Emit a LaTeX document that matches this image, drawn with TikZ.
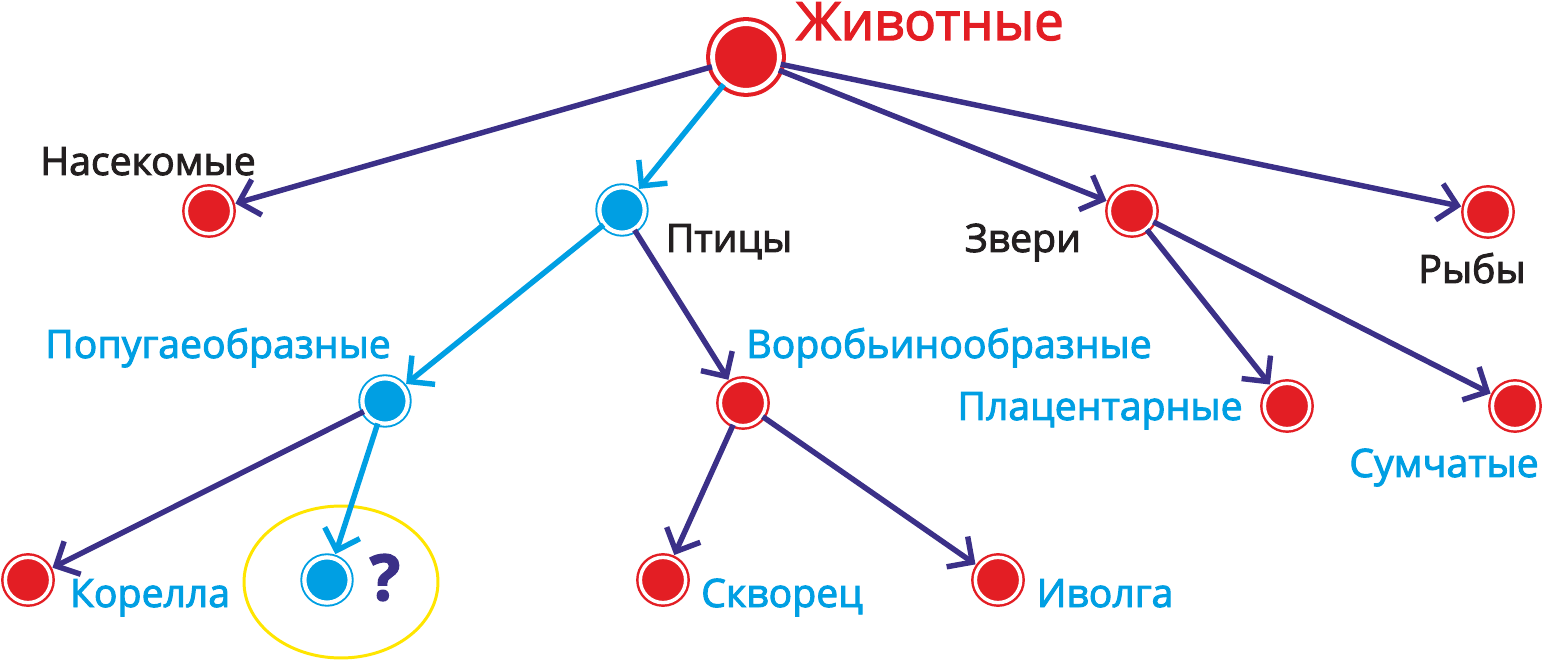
\documentclass[tikz,border=0pt]{standalone}
\usepackage{fontspec}
\setmainfont{Open Sans}[FakeBold=2.5]
\usetikzlibrary{arrows.meta}
\definecolor{animred}{HTML}{E31E24}
\definecolor{birdblue}{HTML}{009FE3}
\definecolor{linknavy}{HTML}{3B3088}
\definecolor{textgray}{HTML}{231F20}
\definecolor{markyellow}{HTML}{FFE500}

\begin{document}
\begin{tikzpicture}[x=0.02cm, y=-0.02cm,
    reddot/.style={circle, fill=animred, draw=animred, double=white, double distance=2pt, line width=1.4pt, minimum size=25.8pt, inner sep=0pt},
    bluedot/.style={reddot, fill=birdblue, draw=birdblue, line width=1.1pt, double distance=2.4pt},
    rootdot/.style={reddot, double distance=2.8pt, line width=2.3pt, minimum size=38pt},
    navyarrow/.style={draw=linknavy, line width=3.1pt, -{Straight Barb[length=10.5pt,width=21pt]}, shorten >=2pt},
    bluearrow/.style={navyarrow, draw=birdblue},
    lbl/.style={font=\fontsize{22.3}{25}\selectfont, text=textgray, inner sep=0pt, anchor=base},
    bluelbl/.style={lbl, text=birdblue}]
    \useasboundingbox (0,0) rectangle (1544,661);

    % Root
    \node[rootdot] (animals) at (746,57) {};
    \node[lbl, text=animred, font=\fontsize{30}{34}\selectfont] (tanimals) at (930,40) {Животные};

    % Classes
    \node[reddot] (insects) at (209,211) {};
    \node[lbl] (tinsects) at (148,175) {Насекомые};
    \node[bluedot] (birds) at (622,210) {};
    \node[lbl] (tbirds) at (729,252) {Птицы};
    \node[reddot] (beasts) at (1132,211) {};
    \node[lbl] (tbeasts) at (1023,252) {Звери};
    \node[reddot] (fish) at (1488,212) {};
    \node[lbl] (tfish) at (1472,283) {Рыбы};

    % Orders
    \node[bluedot] (parrots) at (385,401) {};
    \node[bluelbl] (tparrots) at (218,358) {Попугаеобразные};
    \node[reddot] (sparrows) at (743,403) {};
    \node[bluelbl] (tsparrows) at (949,358) {Воробьинообразные};
    \node[reddot] (placental) at (1287,406) {};
    \node[bluelbl] (tplacental) at (1100,420) {Плацентарные};
    \node[reddot] (marsupial) at (1515,406) {};
    \node[bluelbl] (tmarsupial) at (1444,477) {Сумчатые};

    % Species
    \node[reddot] (cockatiel) at (28,580) {};
    \node[bluelbl] (tcockatiel) at (150,607) {Корелла};
    \node[bluedot] (unknown) at (327,580) {};
    \node[lbl, text=linknavy, font=\bfseries\fontsize{36}{40}\selectfont] (tunknown) at (385,600) {?};
    \node[reddot] (starling) at (663,580) {};
    \node[bluelbl] (tstarling) at (782,607) {Скворец};
    \node[reddot] (oriole) at (998,580) {};
    \node[bluelbl] (toriole) at (1105,607) {Иволга};

    \draw[markyellow, line width=1.7pt] (341,582) ellipse [x radius=1.94cm, y radius=1.52cm];

    % Arrows
    \draw[navyarrow] (animals) -- (insects);
    \draw[bluearrow] (animals) -- (birds);
    \draw[navyarrow] (animals) -- (beasts);
    \draw[navyarrow] (animals) -- (fish);
    \draw[bluearrow] (birds) -- (parrots);
    \draw[navyarrow] (birds) -- (sparrows);
    \draw[navyarrow] (beasts) -- (placental);
    \draw[navyarrow] (beasts) -- (marsupial);
    \draw[navyarrow] (parrots) -- (cockatiel);
    \draw[bluearrow] (parrots) -- (unknown);
    \draw[navyarrow] (sparrows) -- (starling);
    \draw[navyarrow] (sparrows) -- (oriole);
\end{tikzpicture}
\end{document}
